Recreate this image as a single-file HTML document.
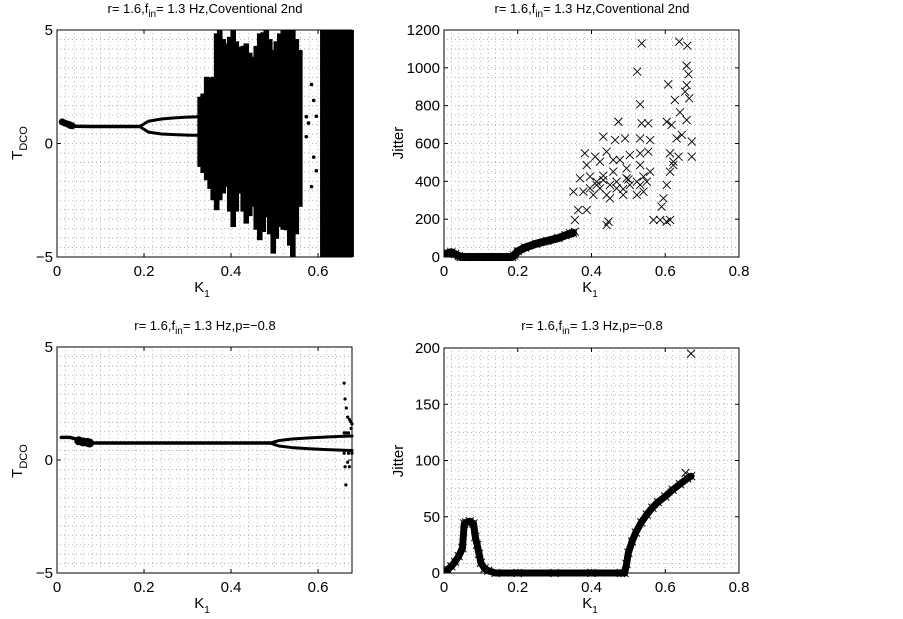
<!DOCTYPE html>
<html><head><meta charset="utf-8">
<style>
html,body{margin:0;padding:0;background:#fff;}
svg{display:block;font-family:"Liberation Sans",Arial,sans-serif;}
</style></head>
<body>
<svg id="fig" width="903" height="619" viewBox="0 0 903 619"></svg>
<script>
// ---------- DATA ----------
const tlStableK = [0.01, 0.02, 0.03, 0.04, 0.08, 0.12, 0.16, 0.19];
const tlStableT = [1.0, 0.95, 0.9, 0.76, 0.75, 0.75, 0.75, 0.75];
const tlBifK = [0.19, 0.21, 0.24, 0.27, 0.30, 0.33];
const tlBifUpper = [0.75, 0.98, 1.08, 1.13, 1.16, 1.18];
const tlBifLower = [0.75, 0.5, 0.42, 0.39, 0.37, 0.36];
const tlChaosK = [0.329,0.336,0.344,0.352,0.359,0.367,0.374,0.382,0.39,0.397,0.405,0.412,0.42,0.428,0.435,0.443,0.451,0.458,0.466,0.474,0.481,0.489,0.497,0.504,0.512,0.52,0.527,0.535,0.542,0.55,0.558,0.611,0.617,0.625,0.632,0.64,0.648,0.655,0.662,0.67,0.676];
const tlChaosMax = [2.06,2.2,2.94,2.9,2.94,4.85,5,4.6,4.41,4.7,5,4.5,4.26,4.3,4.41,4.0,3.82,4.3,4.85,4.9,5,4.6,4.12,4.5,4.85,5,5,5,5,4.6,4.12,5,5,5,5,5,5,5,5,5,5];
const tlChaosMin = [-1.03,-1.3,-1.62,-2.0,-2.5,-2.94,-2.5,-2.2,-1.91,-3.0,-3.68,-3.0,-2.2,-3.0,-3.53,-3.2,-2.79,-3.8,-4.26,-3.9,-3.24,-4.0,-4.85,-4.2,-3.68,-3.8,-3.82,-4.5,-5,-4.0,-2.79,-5,-5,-5,-5,-5,-5,-5,-5,-5,-5];
const tlSparseK = [0.573,0.578,0.585,0.59,0.596,0.596,0.585,0.573,0.59];
const tlSparseT = [1.18,0.9,2.6,1.9,1.2,-1.2,-1.9,0.3,-0.6];

const trCurveK = [0.01,0.02,0.03,0.04,0.045,0.08,0.12,0.16,0.185,0.19,0.2,0.22,0.25,0.28,0.31,0.33,0.35];
const trCurveJ = [20,25,15,5,0,0,0,0,0,8,30,50,70,85,100,115,128];
const trScatK = [0.536,0.638,0.660,0.524,0.658,0.663,0.608,0.658,0.654,0.665,0.626,0.532,0.640,0.658,0.473,0.536,0.554,0.604,0.617,0.432,0.464,0.491,0.532,0.559,0.631,0.645,0.672,0.382,0.410,0.441,0.459,0.477,0.504,0.532,0.554,0.613,0.636,0.622,0.672,0.387,0.423,0.459,0.495,0.532,0.559,0.613,0.622,0.369,0.396,0.414,0.432,0.450,0.468,0.495,0.523,0.541,0.396,0.423,0.441,0.468,0.504,0.532,0.550,0.351,0.378,0.405,0.450,0.486,0.523,0.541,0.604,0.595,0.590,0.364,0.387,0.355,0.446,0.441,0.568,0.586,0.604,0.613,0.355,0.342,0.414,0.432,0.486,0.50];
const trScatJ = [1129,1138,1117,980,1011,966,913,909,874,839,830,807,765,724,715,707,707,715,698,636,618,627,627,618,627,645,610,548,530,557,513,513,539,548,557,548,530,504,530,486,504,451,469,486,451,451,486,416,425,398,407,381,398,416,398,425,363,363,328,363,381,381,398,345,345,328,310,328,328,345,381,310,266,248,248,196,187,169,196,196,187,196,134,125,380,430,360,410];

const blStableK = [0.01,0.03,0.05,0.07,0.08,0.15,0.25,0.35,0.45,0.49];
const blStableT = [1.0,1.0,0.9,0.8,0.75,0.75,0.75,0.75,0.75,0.75];
const blBifK = [0.49,0.51,0.54,0.58,0.62,0.66,0.678];
const blBifUpper = [0.75,0.86,0.93,0.98,1.02,1.05,1.06];
const blBifLower = [0.75,0.62,0.55,0.5,0.46,0.43,0.42];
const blDotK = [0.66,0.662,0.665,0.668,0.672,0.675,0.678,0.66,0.665,0.67,0.676,0.662,0.668,0.664,0.672,0.678,0.66,0.67];
const blDotT = [3.4,2.7,2.3,1.9,1.8,1.7,1.6,1.2,1.2,1.2,1.4,-0.3,-0.1,-1.1,-0.3,0.3,0.3,0.3];

const brK = [0.01,0.02,0.03,0.04,0.05,0.055,0.06,0.07,0.08,0.085,0.09,0.095,0.1,0.11,0.12,0.14,0.2,0.3,0.4,0.48,0.49,0.495,0.5,0.51,0.52,0.535,0.55,0.565,0.58,0.6,0.62,0.64,0.66,0.67];
const brJ = [3,6,10,15,22,44,45,46,44,32,25,17,9,4,2,0,0,0,0,0,0,8,18,28,36,45,52,58,63,68,74,79,84,86];
const brOutK = [0.655,0.67];
const brOutJ = [89,195];

const xTicksL = [0,0.2,0.4,0.6];
const xTicksR = [0,0.2,0.4,0.6,0.8];
const yTicksT = [-5,0,5];
const yTicksJ1 = [0,200,400,600,800,1000,1200];
const yTicksJ2 = [0,50,100,150,200];

// ---------- DRAW ----------
const NS='http://www.w3.org/2000/svg';
const svg=document.getElementById('fig');
function el(tag,attrs,parent){const e=document.createElementNS(NS,tag);for(const k in attrs)e.setAttribute(k,attrs[k]);(parent||svg).appendChild(e);return e;}

function makeAxes(name,x0,x1,y0,y1,xmin,xmax,ymin,ymax){
  const g=el('g',{});
  
  
  const sx=v=>x0+(v-xmin)/(xmax-xmin)*(x1-x0);
  const sy=v=>y1-(v-ymin)/(ymax-ymin)*(y1-y0);
  const grid=el('g',{stroke:'#a8a8a8','stroke-width':0.8,'stroke-dasharray':'1,3'},g);
  
  
  for(let v=0.02;v<xmax-0.005;v+=0.02){const X=sx(v);el('line',{x1:X,y1:y0+3,x2:X,y2:y1-3},grid);}
  const nr=24;
  for(let i=1;i<nr;i++){const Y=y0+(y1-y0)*i/nr;el('line',{x1:x0+3,y1:Y,x2:x1-3,y2:Y},grid);}
  return {g,sx,sy,x0,x1,y0,y1};
}
function frame(ax,name,xt,yt,xfmt,yfmt){
  const {g,sx,sy,x0,x1,y0,y1}=ax;
  const f=el('rect',{x:x0,y:y0,width:x1-x0,height:y1-y0,fill:'none',stroke:'#000','stroke-width':1},g);
  
  
  xt.forEach(v=>{const X=sx(v);
    el('line',{x1:X,y1:y1,x2:X,y2:y1-4,stroke:'#000'},g);el('line',{x1:X,y1:y0,x2:X,y2:y0+4,stroke:'#000'},g);
    const t=el('text',{x:X,y:y1+19,'font-size':15,'text-anchor':'middle'},g);t.textContent=xfmt(v);
    
    });
  yt.forEach(v=>{const Y=sy(v);
    el('line',{x1:x0,y1:Y,x2:x0+4,y2:Y,stroke:'#000'},g);el('line',{x1:x1,y1:Y,x2:x1-4,y2:Y,stroke:'#000'},g);
    const t=el('text',{x:x0-4,y:Y+5,'font-size':15,'text-anchor':'end'},g);t.textContent=yfmt(v);
    
    });
}
function line(ax,K,V,w,name){
  const p=el('polyline',{points:K.map((k,i)=>ax.sx(k)+','+ax.sy(V[i])).join(' '),fill:'none',stroke:'#000','stroke-width':w,'stroke-linejoin':'round','stroke-linecap':'round'},ax.g);
  
  
}
function xmark(ax,K,V,s,name){
  const g=el('g',{stroke:'#000','stroke-width':0.9},ax.g);
  
  
  K.forEach((k,i)=>{const X=ax.sx(k),Y=ax.sy(V[i]);
    el('line',{x1:X-s,y1:Y-s,x2:X+s,y2:Y+s},g);el('line',{x1:X-s,y1:Y+s,x2:X+s,y2:Y-s},g);});
}
function dots(ax,K,V,r,name){
  const g=el('g',{fill:'#000'},ax.g);
  
  
  K.forEach((k,i)=>el('circle',{cx:ax.sx(k),cy:ax.sy(V[i]),r:r},g));
}
function title(x,y,tail,name){
  const t=el('text',{x:x,y:y,'font-size':13,'text-anchor':'middle'});
  
  
  t.innerHTML='r= 1.6,f<tspan dy="4" font-size="10">in</tspan><tspan dy="-4">= 1.3 Hz,'+tail+'</tspan>';
}
function xlabel(x,y,name){
  const t=el('text',{x:x,y:y,'font-size':15,'text-anchor':'middle'});
  
  
  t.innerHTML='K<tspan dy="5" font-size="10">1</tspan>';
}
function ylabel(x,y,html,name){
  const t=el('text',{x:x,y:y,'font-size':15,'text-anchor':'middle',transform:'rotate(-90 '+x+' '+y+')'});
  
  
  t.innerHTML=html;
}
const f1=v=>v===0?'0':String(v);
const fT=v=>v<0?'\u2212'+Math.abs(v):String(v);

// TL
const a1=makeAxes('t-dco-conventional-plot',57,352,30,257,0,0.678,-5,5);
line(a1,tlStableK,tlStableT,3.5,'tl-stable-branch');
dots(a1,[0.012,0.018,0.025,0.03,0.035],[0.95,0.9,0.85,0.8,0.78],3.5,'tl-start-blob');
line(a1,tlBifK,tlBifUpper,3,'tl-bif-upper');
line(a1,tlBifK,tlBifLower,3,'tl-bif-lower');
{const g=el('g',{fill:'#000'},a1.g);
 
 
 tlChaosK.forEach((k,i)=>{const X=a1.sx(k),Yt=a1.sy(tlChaosMax[i]),Yb=a1.sy(tlChaosMin[i]);
   el('rect',{x:X-2.8,y:Yt,width:5.6,height:Yb-Yt},g);});}
dots(a1,tlSparseK,tlSparseT,1.8,'tl-sparse-points');
frame(a1,'tl',xTicksL,yTicksT,f1,fT);
title(205,13,'Coventional 2nd','tl-title');
xlabel(202,292,'tl-x-label');
ylabel(22,143,'T<tspan dy="5" font-size="11">DCO</tspan>','tl-y-label');

// TR
const a2=makeAxes('jitter-conventional-plot',444,739,30,257,0,0.8,0,1200);
line(a2,trCurveK,trCurveJ,8,'tr-jitter-curve');
xmark(a2,trCurveK,trCurveJ,4,'tr-jitter-curve-markers');
xmark(a2,trScatK,trScatJ,4,'tr-jitter-scatter');
frame(a2,'tr',xTicksR,yTicksJ1,f1,f1);
title(592,13,'Coventional 2nd','tr-title');
xlabel(590,292,'tr-x-label');
ylabel(403,143,'Jitter','tr-y-label');

// BL
const a3=makeAxes('t-dco-p-plot',57,352,347,573,0,0.678,-5,5);
line(a3,blStableK,blStableT,3.5,'bl-stable-branch');
dots(a3,[0.05,0.06,0.07,0.075],[0.85,0.8,0.78,0.75],4.5,'bl-start-blob');
line(a3,blBifK,blBifUpper,3,'bl-bif-upper');
line(a3,blBifK,blBifLower,3,'bl-bif-lower');
dots(a3,blDotK,blDotT,1.6,'bl-scatter-points');
frame(a3,'bl',xTicksL,yTicksT,f1,fT);
title(205,330,'p=\u22120.8','bl-title');
xlabel(202,608,'bl-x-label');
ylabel(22,461,'T<tspan dy="5" font-size="11">DCO</tspan>','bl-y-label');

// BR
const a4=makeAxes('jitter-p-plot',444,739,348,573,0,0.8,0,200);
line(a4,brK,brJ,7,'br-jitter-curve');
xmark(a4,brK,brJ,4,'br-jitter-markers');
xmark(a4,brOutK,brOutJ,4,'br-jitter-outliers');
frame(a4,'br',xTicksR,yTicksJ2,f1,f1);
title(592,330,'p=\u22120.8','br-title');
xlabel(590,608,'br-x-label');
ylabel(403,461,'Jitter','br-y-label');
</script>
</body></html>
